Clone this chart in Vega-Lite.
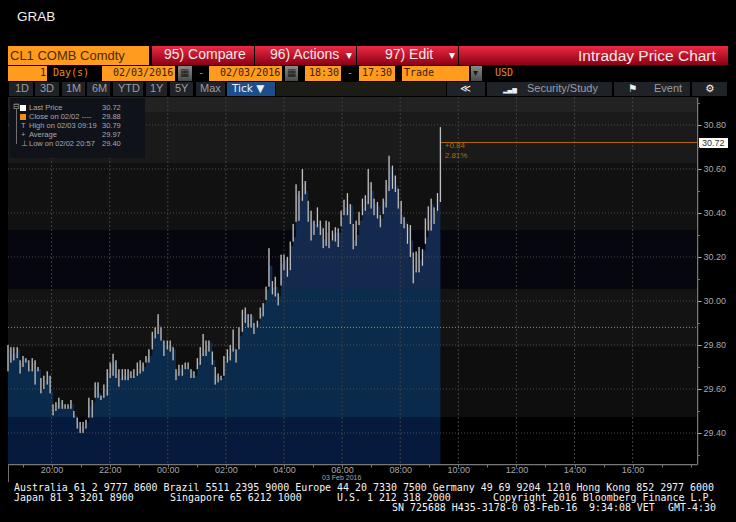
{"$schema":"https://vega.github.io/schema/vega-lite/v6.json","width":689,"height":367,"autosize":{"type":"none"},"padding":{"left":8,"top":97,"right":39,"bottom":58},"background":"#000000","config":{"view":{"stroke":null}},
"datasets":{
"bars":[
{"t":"2016-02-02T18:30:00Z","hi":29.80,"lo":29.68,"close":29.78},{"t":"2016-02-02T18:36:00Z","hi":29.79,"lo":29.72,"close":29.76},{"t":"2016-02-02T18:42:00Z","hi":29.79,"lo":29.73,"close":29.76},{"t":"2016-02-02T18:49:00Z","hi":29.79,"lo":29.74,"close":29.78},{"t":"2016-02-02T18:55:00Z","hi":29.73,"lo":29.67,"close":29.72},
{"t":"2016-02-02T19:01:00Z","hi":29.75,"lo":29.70,"close":29.74},{"t":"2016-02-02T19:07:00Z","hi":29.74,"lo":29.72,"close":29.73},{"t":"2016-02-02T19:13:00Z","hi":29.73,"lo":29.68,"close":29.69},{"t":"2016-02-02T19:20:00Z","hi":29.74,"lo":29.68,"close":29.72},{"t":"2016-02-02T19:26:00Z","hi":29.73,"lo":29.62,"close":29.69},
{"t":"2016-02-02T19:32:00Z","hi":29.70,"lo":29.68,"close":29.69},{"t":"2016-02-02T19:38:00Z","hi":29.65,"lo":29.58,"close":29.60},{"t":"2016-02-02T19:44:00Z","hi":29.66,"lo":29.60,"close":29.64},{"t":"2016-02-02T19:51:00Z","hi":29.68,"lo":29.62,"close":29.66},{"t":"2016-02-02T19:57:00Z","hi":29.66,"lo":29.58,"close":29.59},
{"t":"2016-02-02T20:03:00Z","hi":29.53,"lo":29.48,"close":29.51},{"t":"2016-02-02T20:09:00Z","hi":29.54,"lo":29.50,"close":29.53},{"t":"2016-02-02T20:15:00Z","hi":29.56,"lo":29.51,"close":29.54},{"t":"2016-02-02T20:22:00Z","hi":29.55,"lo":29.51,"close":29.53},{"t":"2016-02-02T20:28:00Z","hi":29.53,"lo":29.51,"close":29.51},
{"t":"2016-02-02T20:34:00Z","hi":29.53,"lo":29.51,"close":29.52},{"t":"2016-02-02T20:40:00Z","hi":29.55,"lo":29.51,"close":29.53},{"t":"2016-02-02T20:46:00Z","hi":29.50,"lo":29.47,"close":29.48},{"t":"2016-02-02T20:53:00Z","hi":29.47,"lo":29.42,"close":29.45},{"t":"2016-02-02T20:59:00Z","hi":29.45,"lo":29.40,"close":29.43},
{"t":"2016-02-02T21:05:00Z","hi":29.45,"lo":29.40,"close":29.43},{"t":"2016-02-02T21:11:00Z","hi":29.46,"lo":29.42,"close":29.45},{"t":"2016-02-02T21:17:00Z","hi":29.56,"lo":29.47,"close":29.52},{"t":"2016-02-02T21:24:00Z","hi":29.55,"lo":29.47,"close":29.54},{"t":"2016-02-02T21:30:00Z","hi":29.63,"lo":29.56,"close":29.61},
{"t":"2016-02-02T21:36:00Z","hi":29.63,"lo":29.56,"close":29.58},{"t":"2016-02-02T21:42:00Z","hi":29.57,"lo":29.55,"close":29.57},{"t":"2016-02-02T21:48:00Z","hi":29.62,"lo":29.56,"close":29.60},{"t":"2016-02-02T21:55:00Z","hi":29.69,"lo":29.57,"close":29.67},{"t":"2016-02-02T22:01:00Z","hi":29.72,"lo":29.65,"close":29.71},
{"t":"2016-02-02T22:07:00Z","hi":29.76,"lo":29.66,"close":29.72},{"t":"2016-02-02T22:13:00Z","hi":29.73,"lo":29.65,"close":29.67},{"t":"2016-02-02T22:19:00Z","hi":29.69,"lo":29.61,"close":29.65},{"t":"2016-02-02T22:26:00Z","hi":29.69,"lo":29.64,"close":29.66},{"t":"2016-02-02T22:32:00Z","hi":29.69,"lo":29.64,"close":29.66},
{"t":"2016-02-02T22:38:00Z","hi":29.69,"lo":29.64,"close":29.68},{"t":"2016-02-02T22:44:00Z","hi":29.68,"lo":29.65,"close":29.66},{"t":"2016-02-02T22:50:00Z","hi":29.69,"lo":29.65,"close":29.66},{"t":"2016-02-02T22:57:00Z","hi":29.72,"lo":29.66,"close":29.69},{"t":"2016-02-02T23:03:00Z","hi":29.73,"lo":29.67,"close":29.71},
{"t":"2016-02-02T23:09:00Z","hi":29.72,"lo":29.68,"close":29.70},{"t":"2016-02-02T23:15:00Z","hi":29.75,"lo":29.72,"close":29.74},{"t":"2016-02-02T23:21:00Z","hi":29.78,"lo":29.72,"close":29.75},{"t":"2016-02-02T23:28:00Z","hi":29.86,"lo":29.78,"close":29.84},{"t":"2016-02-02T23:34:00Z","hi":29.88,"lo":29.83,"close":29.85},
{"t":"2016-02-02T23:40:00Z","hi":29.94,"lo":29.85,"close":29.89},{"t":"2016-02-02T23:46:00Z","hi":29.88,"lo":29.82,"close":29.82},{"t":"2016-02-02T23:52:00Z","hi":29.82,"lo":29.75,"close":29.80},{"t":"2016-02-02T23:59:00Z","hi":29.82,"lo":29.78,"close":29.80},{"t":"2016-02-03T00:05:00Z","hi":29.82,"lo":29.77,"close":29.80},
{"t":"2016-02-03T00:11:00Z","hi":29.79,"lo":29.73,"close":29.78},{"t":"2016-02-03T00:17:00Z","hi":29.69,"lo":29.64,"close":29.68},{"t":"2016-02-03T00:23:00Z","hi":29.71,"lo":29.66,"close":29.69},{"t":"2016-02-03T00:30:00Z","hi":29.71,"lo":29.66,"close":29.69},{"t":"2016-02-03T00:36:00Z","hi":29.72,"lo":29.69,"close":29.70},
{"t":"2016-02-03T00:42:00Z","hi":29.72,"lo":29.69,"close":29.69},{"t":"2016-02-03T00:48:00Z","hi":29.69,"lo":29.65,"close":29.68},{"t":"2016-02-03T00:54:00Z","hi":29.68,"lo":29.65,"close":29.66},{"t":"2016-02-03T01:01:00Z","hi":29.74,"lo":29.69,"close":29.72},{"t":"2016-02-03T01:07:00Z","hi":29.79,"lo":29.71,"close":29.76},
{"t":"2016-02-03T01:13:00Z","hi":29.85,"lo":29.75,"close":29.78},{"t":"2016-02-03T01:19:00Z","hi":29.82,"lo":29.75,"close":29.80},{"t":"2016-02-03T01:25:00Z","hi":29.82,"lo":29.77,"close":29.81},{"t":"2016-02-03T01:32:00Z","hi":29.77,"lo":29.71,"close":29.73},{"t":"2016-02-03T01:38:00Z","hi":29.70,"lo":29.62,"close":29.66},
{"t":"2016-02-03T01:44:00Z","hi":29.67,"lo":29.63,"close":29.65},{"t":"2016-02-03T01:50:00Z","hi":29.66,"lo":29.64,"close":29.65},{"t":"2016-02-03T01:56:00Z","hi":29.75,"lo":29.66,"close":29.72},{"t":"2016-02-03T02:03:00Z","hi":29.78,"lo":29.72,"close":29.75},{"t":"2016-02-03T02:09:00Z","hi":29.80,"lo":29.73,"close":29.78},
{"t":"2016-02-03T02:15:00Z","hi":29.87,"lo":29.77,"close":29.79},{"t":"2016-02-03T02:21:00Z","hi":29.78,"lo":29.72,"close":29.78},{"t":"2016-02-03T02:27:00Z","hi":29.88,"lo":29.78,"close":29.84},{"t":"2016-02-03T02:34:00Z","hi":29.96,"lo":29.86,"close":29.90},{"t":"2016-02-03T02:40:00Z","hi":29.97,"lo":29.90,"close":29.94},
{"t":"2016-02-03T02:46:00Z","hi":29.94,"lo":29.88,"close":29.90},{"t":"2016-02-03T02:52:00Z","hi":29.94,"lo":29.88,"close":29.93},{"t":"2016-02-03T02:58:00Z","hi":29.90,"lo":29.85,"close":29.88},{"t":"2016-02-03T03:05:00Z","hi":29.91,"lo":29.88,"close":29.90},{"t":"2016-02-03T03:11:00Z","hi":29.97,"lo":29.92,"close":29.945},
{"t":"2016-02-03T03:17:00Z","hi":29.99,"lo":29.93,"close":29.99},{"t":"2016-02-03T03:23:00Z","hi":30.065,"lo":30.005,"close":30.05},{"t":"2016-02-03T03:29:00Z","hi":30.24,"lo":30.065,"close":30.16},{"t":"2016-02-03T03:36:00Z","hi":30.09,"lo":30.03,"close":30.06},{"t":"2016-02-03T03:42:00Z","hi":30.11,"lo":30.02,"close":30.065},
{"t":"2016-02-03T03:48:00Z","hi":30.035,"lo":29.98,"close":30.02},{"t":"2016-02-03T03:54:00Z","hi":30.21,"lo":30.07,"close":30.17},{"t":"2016-02-03T04:00:00Z","hi":30.21,"lo":30.14,"close":30.185},{"t":"2016-02-03T04:07:00Z","hi":30.20,"lo":30.11,"close":30.14},{"t":"2016-02-03T04:13:00Z","hi":30.27,"lo":30.14,"close":30.25},
{"t":"2016-02-03T04:19:00Z","hi":30.35,"lo":30.27,"close":30.29},{"t":"2016-02-03T04:25:00Z","hi":30.53,"lo":30.36,"close":30.485},{"t":"2016-02-03T04:31:00Z","hi":30.50,"lo":30.365,"close":30.47},{"t":"2016-02-03T04:38:00Z","hi":30.60,"lo":30.455,"close":30.53},{"t":"2016-02-03T04:44:00Z","hi":30.545,"lo":30.485,"close":30.50},
{"t":"2016-02-03T04:50:00Z","hi":30.455,"lo":30.36,"close":30.41},{"t":"2016-02-03T04:56:00Z","hi":30.41,"lo":30.275,"close":30.36},{"t":"2016-02-03T05:02:00Z","hi":30.365,"lo":30.30,"close":30.35},{"t":"2016-02-03T05:09:00Z","hi":30.425,"lo":30.335,"close":30.35},{"t":"2016-02-03T05:15:00Z","hi":30.365,"lo":30.30,"close":30.34},
{"t":"2016-02-03T05:21:00Z","hi":30.33,"lo":30.24,"close":30.28},{"t":"2016-02-03T05:27:00Z","hi":30.365,"lo":30.25,"close":30.31},{"t":"2016-02-03T05:33:00Z","hi":30.36,"lo":30.24,"close":30.275},{"t":"2016-02-03T05:40:00Z","hi":30.32,"lo":30.275,"close":30.305},{"t":"2016-02-03T05:46:00Z","hi":30.335,"lo":30.27,"close":30.31},
{"t":"2016-02-03T05:52:00Z","hi":30.33,"lo":30.245,"close":30.31},{"t":"2016-02-03T05:58:00Z","hi":30.41,"lo":30.34,"close":30.38},{"t":"2016-02-03T06:04:00Z","hi":30.46,"lo":30.39,"close":30.425},{"t":"2016-02-03T06:11:00Z","hi":30.49,"lo":30.39,"close":30.44},{"t":"2016-02-03T06:17:00Z","hi":30.44,"lo":30.35,"close":30.435},
{"t":"2016-02-03T06:23:00Z","hi":30.35,"lo":30.235,"close":30.275},{"t":"2016-02-03T06:29:00Z","hi":30.365,"lo":30.25,"close":30.30},{"t":"2016-02-03T06:35:00Z","hi":30.405,"lo":30.345,"close":30.365},{"t":"2016-02-03T06:42:00Z","hi":30.465,"lo":30.39,"close":30.42},{"t":"2016-02-03T06:48:00Z","hi":30.48,"lo":30.41,"close":30.455},
{"t":"2016-02-03T06:54:00Z","hi":30.60,"lo":30.44,"close":30.54},{"t":"2016-02-03T07:00:00Z","hi":30.54,"lo":30.42,"close":30.50},{"t":"2016-02-03T07:06:00Z","hi":30.465,"lo":30.39,"close":30.44},{"t":"2016-02-03T07:13:00Z","hi":30.45,"lo":30.375,"close":30.43},{"t":"2016-02-03T07:19:00Z","hi":30.39,"lo":30.335,"close":30.375},
{"t":"2016-02-03T07:25:00Z","hi":30.465,"lo":30.395,"close":30.45},{"t":"2016-02-03T07:31:00Z","hi":30.55,"lo":30.425,"close":30.525},{"t":"2016-02-03T07:37:00Z","hi":30.66,"lo":30.50,"close":30.61},{"t":"2016-02-03T07:44:00Z","hi":30.615,"lo":30.51,"close":30.57},{"t":"2016-02-03T07:50:00Z","hi":30.57,"lo":30.495,"close":30.525},
{"t":"2016-02-03T07:56:00Z","hi":30.51,"lo":30.42,"close":30.45},{"t":"2016-02-03T08:02:00Z","hi":30.455,"lo":30.35,"close":30.39},{"t":"2016-02-03T08:08:00Z","hi":30.38,"lo":30.33,"close":30.36},{"t":"2016-02-03T08:15:00Z","hi":30.35,"lo":30.26,"close":30.335},{"t":"2016-02-03T08:21:00Z","hi":30.345,"lo":30.20,"close":30.275},
{"t":"2016-02-03T08:27:00Z","hi":30.22,"lo":30.08,"close":30.14},{"t":"2016-02-03T08:33:00Z","hi":30.225,"lo":30.13,"close":30.215},{"t":"2016-02-03T08:39:00Z","hi":30.245,"lo":30.13,"close":30.185},{"t":"2016-02-03T08:46:00Z","hi":30.235,"lo":30.16,"close":30.23},{"t":"2016-02-03T08:52:00Z","hi":30.375,"lo":30.26,"close":30.29},
{"t":"2016-02-03T08:58:00Z","hi":30.43,"lo":30.32,"close":30.365},{"t":"2016-02-03T09:04:00Z","hi":30.465,"lo":30.32,"close":30.44},{"t":"2016-02-03T09:10:00Z","hi":30.425,"lo":30.35,"close":30.41},{"t":"2016-02-03T09:17:00Z","hi":30.49,"lo":30.41,"close":30.46},{"t":"2016-02-03T09:23:00Z","hi":30.79,"lo":30.45,"close":30.72}
],
"bands":[{"band":"a","top":30.927,"bottom":30.855},{"band":"b","top":30.855,"bottom":30.627},{"band":"c","top":30.627,"bottom":30.323},{"band":"d","top":30.323,"bottom":30.055},{"band":"e","top":30.055,"bottom":29.791},{"band":"f","top":29.791,"bottom":29.473},{"band":"g","top":29.473,"bottom":29.259}],
"priceGrid":[{"p":29.4},{"p":29.6},{"p":29.8},{"p":30.0},{"p":30.2},{"p":30.4},{"p":30.6},{"p":30.8}],
"timeGrid":[{"t":"2016-02-02T20:00:00Z"},{"t":"2016-02-02T22:00:00Z"},{"t":"2016-02-03T00:00:00Z"},{"t":"2016-02-03T02:00:00Z"},{"t":"2016-02-03T04:00:00Z"},{"t":"2016-02-03T06:00:00Z"},{"t":"2016-02-03T08:00:00Z"},{"t":"2016-02-03T10:00:00Z"},{"t":"2016-02-03T12:00:00Z"},{"t":"2016-02-03T14:00:00Z"},{"t":"2016-02-03T16:00:00Z"}],
"notes":[{"t":"2016-02-03T09:32:00Z","p":30.705,"label":"+0.84"},{"t":"2016-02-03T09:32:00Z","p":30.66,"label":"2.81%"}],
"orangeBoxes":[{"l":8,"r":149,"u":46,"d":65},{"l":8,"r":47,"u":66,"d":81},{"l":102,"r":175,"u":66,"d":81},{"l":209,"r":282,"u":66,"d":81},{"l":305,"r":341,"u":66,"d":81},{"l":359,"r":395,"u":66,"d":81},{"l":402,"r":469,"u":66,"d":81}],
"redBoxes":[{"l":152,"r":254,"u":46,"d":65},{"l":255,"r":356,"u":46,"d":65},{"l":357,"r":458,"u":46,"d":65},{"l":459,"r":728,"u":46,"d":65}],
"greyBoxes":[{"l":178,"r":192,"u":66,"d":81},{"l":285,"r":298,"u":66,"d":81},{"l":471,"r":482,"u":66,"d":81}],
"darkBoxes":[{"l":9,"r":33,"u":82,"d":96},{"l":35,"r":59,"u":82,"d":96},{"l":62,"r":85,"u":82,"d":96},{"l":87,"r":110,"u":82,"d":96},{"l":113,"r":143,"u":82,"d":96},{"l":146,"r":167,"u":82,"d":96},{"l":170,"r":193,"u":82,"d":96},{"l":196,"r":225,"u":82,"d":96},{"l":447,"r":485,"u":82,"d":96},{"l":487,"r":612,"u":82,"d":96},{"l":614,"r":690,"u":82,"d":96},{"l":692,"r":727,"u":82,"d":96}],
"blueBox":[{"l":227,"r":275,"u":82,"d":96}],
"stripBox":[{"l":276,"r":446,"u":82,"d":96}],
"panelBox":[{"l":10,"r":145,"u":98,"d":158}],
"whiteBoxes":[{"l":699,"r":728,"u":138,"d":148},{"l":20,"r":26,"u":105,"d":111}],
"swatch":[{"l":20,"r":26,"u":114,"d":120}],
"treeLine":[{"l":16,"r":17,"u":109,"d":144},{"l":8,"r":9,"u":464,"d":482},{"l":697,"r":700,"u":103,"d":104},{"l":697,"r":700,"u":147,"d":148},{"l":697,"r":700,"u":191,"d":192},{"l":697,"r":700,"u":235,"d":236},{"l":697,"r":700,"u":279,"d":280},{"l":697,"r":700,"u":323,"d":324},{"l":697,"r":700,"u":367,"d":368},{"l":697,"r":700,"u":411,"d":412},{"l":697,"r":700,"u":455,"d":456}],
"heading":[{"label":"GRAB","col":17,"row":17}],
"bigDark":[{"label":"CL1 COMB Comdty","col":10,"row":56}],
"redLabels":[{"label":"95) Compare","col":164,"row":55},{"label":"96) Actions","col":270,"row":55},{"label":"97) Edit","col":385,"row":55}],
"redTitle":[{"label":"Intraday Price Chart","col":578,"row":56}],
"arrows":[{"label":"▾","col":346,"row":55},{"label":"▾","col":449,"row":55}],
"monoDark":[{"label":"02/03/2016","col":113,"row":73},{"label":"02/03/2016","col":220,"row":73},{"label":"18:30","col":309,"row":73},{"label":"17:30","col":362,"row":73},{"label":"Trade","col":404,"row":73},{"label":"1","col":40,"row":73}],
"monoOrange":[{"label":"Day(s)","col":53,"row":73},{"label":"-","col":198,"row":73},{"label":"-","col":347,"row":73},{"label":"USD","col":495,"row":73}],
"icons":[{"label":"▦","col":180,"row":73},{"label":"▦","col":287,"row":73},{"label":"▾","col":473,"row":73}],
"buttonLabels":[{"label":"1D","col":15,"row":89},{"label":"3D","col":40,"row":89},{"label":"1M","col":66,"row":89},{"label":"6M","col":92,"row":89},{"label":"YTD","col":118,"row":89},{"label":"1Y","col":150,"row":89},{"label":"5Y","col":175,"row":89},{"label":"Max","col":200,"row":89},{"label":"Security/Study","col":527,"row":89},{"label":"Event","col":654,"row":89}],
"buttonGlyphs":[{"label":"≪","col":460,"row":89},{"label":"⚑","col":628,"row":89},{"label":"⚙","col":705,"row":89},{"label":"Tick ▼","col":232,"row":89}],
"chartGlyph":[{"label":"▂▄▆","col":503,"row":90}],
"legendNames":[{"label":"Last Price","col":29,"row":108},{"label":"Close on 02/02 ----","col":29,"row":117},{"label":"High on 02/03 09:19","col":29,"row":126},{"label":"Average","col":29,"row":135},{"label":"Low on 02/02 20:57","col":29,"row":144},{"label":"30.72","col":102,"row":108},{"label":"29.88","col":102,"row":117},{"label":"30.79","col":102,"row":126},{"label":"29.97","col":102,"row":135},{"label":"29.40","col":102,"row":144},{"label":"T","col":21,"row":126},{"label":"+","col":21,"row":135},{"label":"⊥","col":21,"row":144},{"label":"⊟","col":13,"row":107}],
"tagText":[{"label":"30.72","col":702,"row":143}],
"dateText":[{"label":"03 Feb 2016","col":322,"row":478}],
"footer":[{"label":"Australia 61 2 9777 8600 Brazil 5511 2395 9000 Europe 44 20 7330 7500 Germany 49 69 9204 1210 Hong Kong 852 2977 6000","col":14,"row":488},{"label":"Japan 81 3 3201 8900","col":14,"row":498},{"label":"Singapore 65 6212 1000","col":170,"row":498},{"label":"U.S. 1 212 318 2000","col":337,"row":498},{"label":"Copyright 2016 Bloomberg Finance L.P.","col":493,"row":498},{"label":"SN 725688 H435-3178-0 03-Feb-16","col":392,"row":508},{"label":"9:34:08 VET","col":589,"row":508},{"label":"GMT-4:30","col":668,"row":508}]
},
"resolve":{"scale":{"x":"independent","y":"independent","color":"independent"}},
"layer":[
{"encoding":{"x":{"field":"t","type":"temporal","title":null,"scale":{"type":"utc","domain":["2016-02-02T18:30:00Z","2016-02-03T18:13:00Z"],"nice":false},"axis":{"orient":"bottom","values":[1454439600000,1454443200000,1454446800000,1454450400000,1454454000000,1454457600000,1454461200000,1454464800000,1454468400000,1454472000000,1454475600000,1454479200000,1454482800000,1454486400000,1454490000000,1454493600000,1454497200000,1454500800000,1454504400000,1454508000000,1454511600000,1454515200000,1454518800000,1454522400000],"labelExpr":"(utchours(datum.value)%2==0&&utchours(datum.value)!=18)?utcFormat(datum.value,'%H:%M'):''","grid":false,"domainColor":"#777777","domainWidth":1.5,"tickColor":"#777777","tickSize":3,"labelColor":"#a8a8a8","labelFont":"Liberation Sans","labelFontSize":9,"labelPadding":-2,"labelFlush":false,"labelOverlap":false}}},
"layer":[
{"data":{"name":"bands"},"mark":{"type":"rect"},"encoding":{"x":{"value":0},"x2":{"value":689},"y":{"field":"top","type":"quantitative","title":null,"scale":{"domain":[29.259,30.927],"nice":false,"zero":false},"axis":{"orient":"right","values":[29.4,29.6,29.8,30.0,30.2,30.4,30.6,30.8],"format":".2f","grid":false,"domainColor":"#777777","domainWidth":1.5,"tickColor":"#b0b0b0","tickSize":4,"labelColor":"#a8a8a8","labelFont":"Liberation Sans","labelFontSize":9,"labelPadding":2,"labelOverlap":false}},"y2":{"field":"bottom"},"color":{"field":"band","type":"nominal","legend":null,"scale":{"domain":["a","b","c","d","e","f","g"],"range":["#222222","#1a1a1a","#111111","#06060f","#131313","#0e0e0e","#000000"]}}}},
{"data":{"name":"bars"},"mark":{"type":"area","interpolate":"step-after","color":{"gradient":"linear","x1":0,"y1":0,"x2":0,"y2":1,"stops":[{"offset":0,"color":"#13294e"},{"offset":0.457,"color":"#13294e"},{"offset":0.457,"color":"#0a2c4d"},{"offset":0.854,"color":"#0a2a4c"},{"offset":0.854,"color":"#061a3e"},{"offset":1,"color":"#061a3e"}]}},"encoding":{"y":{"field":"close","type":"quantitative"},"y2":{"datum":29.259}}},
{"data":{"name":"priceGrid"},"mark":{"type":"rule","color":"#4c4c4c","strokeDash":[1,2],"strokeWidth":1},"encoding":{"x":{"value":0},"x2":{"value":689},"y":{"field":"p","type":"quantitative"}}},
{"data":{"name":"timeGrid"},"mark":{"type":"rule","color":"#404040","strokeDash":[2,2],"strokeWidth":1},"encoding":{"y":{"value":0},"y2":{"value":367}}},
{"data":{"values":[{"close":29.88}]},"mark":{"type":"rule","color":"#c98a1a","strokeDash":[1,2],"strokeWidth":1},"encoding":{"x":{"value":0},"x2":{"value":689},"y":{"field":"close","type":"quantitative"}}},
{"data":{"values":[{"t":"2016-02-03T09:23:00Z","last":30.72}]},"mark":{"type":"rule","color":"#b8660a","strokeWidth":1},"encoding":{"x2":{"value":689},"y":{"field":"last","type":"quantitative"}}},
{"data":{"name":"bars"},"mark":{"type":"rule","color":"#4e4e4e","strokeWidth":1.7},"encoding":{"y":{"field":"hi","type":"quantitative"},"y2":{"field":"lo"}}},
{"data":{"name":"bars"},"mark":{"type":"rule","color":"#dcdcdc","strokeWidth":0.9},"encoding":{"y":{"field":"hi","type":"quantitative"},"y2":{"field":"lo"}}},
{"data":{"name":"notes"},"mark":{"type":"text","align":"left","baseline":"middle","font":"Liberation Sans","fontSize":8,"color":"#b06a10"},"encoding":{"y":{"field":"p","type":"quantitative"},"text":{"field":"label"}}}
]},
{"encoding":{"x":{"field":"l","type":"quantitative","title":null,"axis":null,"scale":{"domain":[8,697],"nice":false,"zero":false}},"y":{"field":"u","type":"quantitative","title":null,"axis":null,"scale":{"domain":[97,464],"reverse":true,"nice":false,"zero":false}}},
"layer":[
{"data":{"name":"stripBox"},"mark":{"type":"rect","color":"#1c1c16"},"encoding":{"x2":{"field":"r"},"y2":{"field":"d"}}},
{"data":{"name":"orangeBoxes"},"mark":{"type":"rect","color":"#ff9c1f"},"encoding":{"x2":{"field":"r"},"y2":{"field":"d"}}},
{"data":{"name":"redBoxes"},"mark":{"type":"rect","color":{"gradient":"linear","x1":0,"y1":0,"x2":0,"y2":1,"stops":[{"offset":0,"color":"#ea2a42"},{"offset":1,"color":"#8c0014"}]}},"encoding":{"x2":{"field":"r"},"y2":{"field":"d"}}},
{"data":{"name":"greyBoxes"},"mark":{"type":"rect","color":{"gradient":"linear","x1":0,"y1":0,"x2":0,"y2":1,"stops":[{"offset":0,"color":"#8a8a8a"},{"offset":1,"color":"#4a4a4a"}]}},"encoding":{"x2":{"field":"r"},"y2":{"field":"d"}}},
{"data":{"name":"darkBoxes"},"mark":{"type":"rect","color":"#1f2226"},"encoding":{"x2":{"field":"r"},"y2":{"field":"d"}}},
{"data":{"name":"blueBox"},"mark":{"type":"rect","color":"#1d4e8c"},"encoding":{"x2":{"field":"r"},"y2":{"field":"d"}}},
{"data":{"name":"panelBox"},"mark":{"type":"rect","color":"#10121a"},"encoding":{"x2":{"field":"r"},"y2":{"field":"d"}}},
{"data":{"name":"whiteBoxes"},"mark":{"type":"rect","color":"#ffffff"},"encoding":{"x2":{"field":"r"},"y2":{"field":"d"}}},
{"data":{"name":"swatch"},"mark":{"type":"rect","color":"#f28c14"},"encoding":{"x2":{"field":"r"},"y2":{"field":"d"}}},
{"data":{"name":"treeLine"},"mark":{"type":"rect","color":"#707070"},"encoding":{"x2":{"field":"r"},"y2":{"field":"d"}}},
{"data":{"name":"heading"},"mark":{"type":"text","align":"left","baseline":"middle","font":"Liberation Sans","fontSize":13.5,"color":"#f2f2f2"},"encoding":{"x":{"field":"col","type":"quantitative"},"y":{"field":"row","type":"quantitative"},"text":{"field":"label"}}},
{"data":{"name":"bigDark"},"mark":{"type":"text","align":"left","baseline":"middle","font":"Liberation Sans","fontSize":13,"color":"#4a2a00"},"encoding":{"x":{"field":"col","type":"quantitative"},"y":{"field":"row","type":"quantitative"},"text":{"field":"label"}}},
{"data":{"name":"redLabels"},"mark":{"type":"text","align":"left","baseline":"middle","font":"Liberation Sans","fontSize":14,"color":"#f4e8ea"},"encoding":{"x":{"field":"col","type":"quantitative"},"y":{"field":"row","type":"quantitative"},"text":{"field":"label"}}},
{"data":{"name":"redTitle"},"mark":{"type":"text","align":"left","baseline":"middle","font":"Liberation Sans","fontSize":15.5,"color":"#f4e8ea"},"encoding":{"x":{"field":"col","type":"quantitative"},"y":{"field":"row","type":"quantitative"},"text":{"field":"label"}}},
{"data":{"name":"arrows"},"mark":{"type":"text","align":"left","baseline":"middle","font":"DejaVu Sans","fontSize":12,"color":"#ffffff"},"encoding":{"x":{"field":"col","type":"quantitative"},"y":{"field":"row","type":"quantitative"},"text":{"field":"label"}}},
{"data":{"name":"monoDark"},"mark":{"type":"text","align":"left","baseline":"middle","font":"DejaVu Sans Mono","fontSize":10,"color":"#3a2200"},"encoding":{"x":{"field":"col","type":"quantitative"},"y":{"field":"row","type":"quantitative"},"text":{"field":"label"}}},
{"data":{"name":"monoOrange"},"mark":{"type":"text","align":"left","baseline":"middle","font":"DejaVu Sans Mono","fontSize":10,"color":"#f08a10"},"encoding":{"x":{"field":"col","type":"quantitative"},"y":{"field":"row","type":"quantitative"},"text":{"field":"label"}}},
{"data":{"name":"icons"},"mark":{"type":"text","align":"left","baseline":"middle","font":"DejaVu Sans","fontSize":10,"color":"#1a1a1a"},"encoding":{"x":{"field":"col","type":"quantitative"},"y":{"field":"row","type":"quantitative"},"text":{"field":"label"}}},
{"data":{"name":"buttonLabels"},"mark":{"type":"text","align":"left","baseline":"middle","font":"Liberation Sans","fontSize":11,"color":"#9a9ea4"},"encoding":{"x":{"field":"col","type":"quantitative"},"y":{"field":"row","type":"quantitative"},"text":{"field":"label"}}},
{"data":{"name":"buttonGlyphs"},"mark":{"type":"text","align":"left","baseline":"middle","font":"DejaVu Sans","fontSize":10.5,"color":"#f0f0f0"},"encoding":{"x":{"field":"col","type":"quantitative"},"y":{"field":"row","type":"quantitative"},"text":{"field":"label"}}},
{"data":{"name":"chartGlyph"},"mark":{"type":"text","align":"left","baseline":"middle","font":"DejaVu Sans","fontSize":6,"color":"#f0f0f0"},"encoding":{"x":{"field":"col","type":"quantitative"},"y":{"field":"row","type":"quantitative"},"text":{"field":"label"}}},
{"data":{"name":"legendNames"},"mark":{"type":"text","align":"left","baseline":"middle","font":"Liberation Sans","fontSize":7.5,"color":"#a8a8a8"},"encoding":{"x":{"field":"col","type":"quantitative"},"y":{"field":"row","type":"quantitative"},"text":{"field":"label"}}},
{"data":{"name":"tagText"},"mark":{"type":"text","align":"left","baseline":"middle","font":"Liberation Sans","fontSize":9,"color":"#333333"},"encoding":{"x":{"field":"col","type":"quantitative"},"y":{"field":"row","type":"quantitative"},"text":{"field":"label"}}},
{"data":{"name":"dateText"},"mark":{"type":"text","align":"left","baseline":"middle","font":"Liberation Sans","fontSize":7,"color":"#a8a8a8"},"encoding":{"x":{"field":"col","type":"quantitative"},"y":{"field":"row","type":"quantitative"},"text":{"field":"label"}}},
{"data":{"name":"footer"},"mark":{"type":"text","align":"left","baseline":"middle","font":"DejaVu Sans Mono","fontSize":9.95,"color":"#f4f4f4"},"encoding":{"x":{"field":"col","type":"quantitative"},"y":{"field":"row","type":"quantitative"},"text":{"field":"label"}}}
]}
]}
